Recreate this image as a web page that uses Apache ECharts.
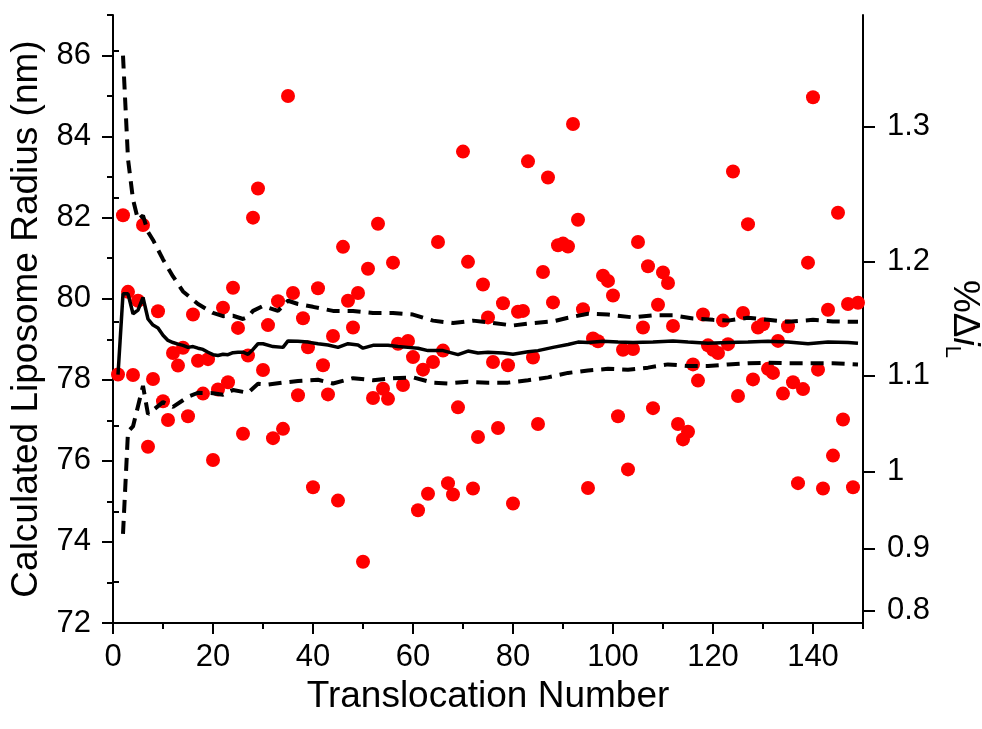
<!DOCTYPE html>
<html>
<head>
<meta charset="utf-8">
<script src="https://cdn.jsdelivr.net/npm/echarts@6/dist/echarts.min.js"></script>
<style>
html,body{margin:0;padding:0;background:#fff;}
#chart{width:982px;height:729px;}
</style>
</head>
<body>
<div id="chart"></div>
<script>
// ---------- data ----------
const translocation = [1,2,3,4,5,6,7,8,9,10,11,12,13,14,15,16,17,18,19,20,21,22,23,24,25,26,27,28,29,30,
31,32,33,34,35,36,37,38,39,40,41,42,43,44,45,46,47,48,49,50,51,52,53,54,55,56,57,58,59,60,
61,62,63,64,65,66,67,68,69,70,71,72,73,74,75,76,77,78,79,80,81,82,83,84,85,86,87,88,89,90,
91,92,93,94,95,96,97,98,99,100,101,102,103,104,105,106,107,108,109,110,111,112,113,114,115,116,117,118,119,120,
121,122,123,124,125,126,127,128,129,130,131,132,133,134,135,136,137,138,139,140,141,142,143,144,145,146,147,148,149];
const radius = [78.13,82.06,80.17,78.12,79.95,81.82,76.35,78.02,79.69,77.47,77.01,78.66,78.35,78.79,77.10,79.61,78.47,77.66,78.51,76.02,
77.76,79.78,77.94,80.27,79.28,76.67,78.60,82.00,82.72,78.24,79.35,76.56,79.94,76.79,85.00,80.14,77.62,79.52,78.80,75.35,
80.26,78.36,77.64,79.08,75.02,81.28,79.95,79.29,80.14,73.51,80.74,77.55,81.85,77.78,77.53,80.89,78.89,77.87,78.96,78.56,
74.78,78.25,75.19,78.44,81.40,78.72,75.45,75.17,77.32,83.63,80.91,75.32,76.59,80.35,79.54,78.44,76.81,79.89,78.36,74.95,
79.68,79.70,83.39,78.55,76.91,80.66,82.99,79.91,81.32,81.36,81.29,84.31,81.95,79.74,75.33,79.02,78.95,80.57,80.44,80.08,
77.10,78.74,75.79,78.76,81.40,79.29,80.80,77.30,79.85,80.65,80.39,79.33,76.91,76.53,76.72,78.38,77.98,79.61,78.85,78.74,
78.66,79.46,78.88,83.14,77.60,79.65,81.84,78.01,79.29,79.37,78.27,78.17,78.96,77.66,79.32,77.94,75.45,77.77,80.89,84.97,
78.25,75.32,79.73,76.13,82.12,77.02,79.87,75.35,79.90];

const meanN = [1,2,3,4,5,6,7,8,9,10,11,12,13,14,15,16,17,18,19,20,21,22,23,24,25,26,27,28,29,30,32,34,35,37,39,41,43,45,47,49,50,52,55,57,59,61,63,66,69,71,73,75,78,80,83,85,88,91,93,95,98,101,104,108,112,115,119,123,127,131,135,139,143,147,149];
const meanR = [78.13,80.12,80.12,79.63,79.72,80.03,79.50,79.35,79.28,79.10,78.97,78.92,78.88,78.85,78.80,78.82,78.78,78.75,78.68,78.62,78.60,78.63,78.62,78.67,78.68,78.68,78.63,78.75,78.89,78.89,78.82,78.80,78.96,78.95,78.93,78.89,78.86,78.80,78.89,78.86,78.78,78.85,78.85,78.82,78.80,78.78,78.72,78.72,78.62,78.71,78.66,78.68,78.66,78.63,78.69,78.72,78.80,78.87,78.93,78.92,78.95,78.93,78.92,78.93,78.96,78.93,78.90,78.92,78.93,78.95,78.93,78.89,78.93,78.92,78.90];

const upperN = [2,3,4,5,6,7,8,10,12,14,17,20,22,24,26,27,28,30,33,35,37,40,44,48,52,56,60,64,68,72,76,80,84,88,91,95,99,104,108,112,116,120,123,127,131,135,140,144,149];
const upperR = [86.00,83.45,82.45,81.95,82.05,81.65,81.45,80.97,80.55,80.18,79.87,79.65,79.57,79.58,79.50,79.55,79.70,79.82,79.70,79.95,79.87,79.80,79.70,79.70,79.65,79.65,79.61,79.46,79.40,79.46,79.40,79.34,79.40,79.44,79.53,79.63,79.61,79.54,79.59,79.59,79.51,79.48,79.46,79.53,79.48,79.43,79.48,79.44,79.43];

const lowerN = [2,3,4,5,6,7,8,10,12,15,17,20,22,24,27,29,31,34,37,41,44,48,52,56,60,64,67,71,75,79,83,87,91,95,99,103,107,111,115,119,123,127,131,135,140,144,149];
const lowerR = [74.20,76.72,76.85,77.35,77.85,77.15,77.25,77.45,77.33,77.58,77.68,77.67,77.63,77.75,77.68,77.90,77.88,77.93,77.97,78.00,77.91,78.04,77.99,78.04,78.06,77.93,77.91,77.95,77.93,77.93,77.99,78.06,78.17,78.23,78.27,78.25,78.30,78.38,78.34,78.34,78.38,78.41,78.42,78.41,78.41,78.41,78.38];

// axis ticks
const xTickValues = [0,20,40,60,80,100,120,140];
const xMinorValues = [10,30,50,70,90,110,130,150];
const yTickValues = [72,74,76,78,80,82,84,86];
const yMinorValues = [73,75,77,79,81,83,85,87];
// right axis (%ΔI_L): label and the radius value at which it sits
const rightTickLabels = ['0.8','0.9','1','1.1','1.2','1.3'];
const rightTickRadius = [72.30,73.84,75.73,78.10,80.91,84.24];
const rightMinorRadius = [73.01,74.75,76.87,79.43,82.50,86.11];

// ---------- chart ----------
const FONT = '"Liberation Sans", Arial, Helvetica, sans-serif';
const BLACK = '#000';
const chart = echarts.init(document.getElementById('chart'), null, {renderer:'canvas'});

const lineAx = {show:true, onZero:false, lineStyle:{color:BLACK, width:2}};
const tickStyle = {color:BLACK, width:2};
const RMIN = 72, RMAX = 87;

function minorY(pos, vals){
  return {type:'value', position:pos, min:RMIN, max:RMAX,
    axisLine:{show:false}, splitLine:{show:false},
    axisLabel:{show:false},
    axisTick:{show:true, inside:false, length:6, lineStyle:tickStyle, customValues:vals}};
}

const option = {
  animation:false,
  backgroundColor:'#ffffff',
  textStyle:{fontFamily:FONT},
  grid:{left:113, right:119, top:15, bottom:106, containLabel:false, outerBoundsMode:'none'},
  xAxis:[
    {type:'value', position:'bottom', min:0, max:150,
     name:'Translocation Number', nameLocation:'middle', nameGap:47,
     nameTextStyle:{fontSize:37, color:BLACK, fontFamily:FONT},
     axisLine:lineAx, splitLine:{show:false},
     axisTick:{show:true, inside:false, length:11, lineStyle:tickStyle, customValues:xTickValues},
     axisLabel:{customValues:xTickValues, fontSize:31, color:BLACK, margin:19, fontFamily:FONT}},
    {type:'value', position:'bottom', min:0, max:150,
     axisLine:{show:false}, splitLine:{show:false}, axisLabel:{show:false},
     axisTick:{show:true, inside:false, length:6, lineStyle:tickStyle, customValues:xMinorValues}}
  ],
  yAxis:[
    {type:'value', position:'left', min:RMIN, max:RMAX,
     name:'Calculated Liposome Radius (nm)', nameLocation:'middle', nameGap:65, nameRotate:90,
     nameTextStyle:{fontSize:37, color:BLACK, fontFamily:FONT},
     axisLine:lineAx, splitLine:{show:false},
     axisTick:{show:true, inside:false, length:11, lineStyle:tickStyle, customValues:yTickValues},
     axisLabel:{customValues:yTickValues, fontSize:31, color:BLACK, margin:22, fontFamily:FONT}},
    {type:'value', position:'right', min:RMIN, max:RMAX,
     name:'{b|%Δ}{i|i}{s|L}', nameLocation:'middle', nameGap:70, nameRotate:-90,
     nameTextStyle:{color:BLACK, fontFamily:FONT, rich:{
       b:{fontSize:37, color:BLACK, fontFamily:FONT, verticalAlign:'top', lineHeight:42},
       i:{fontSize:37, color:BLACK, fontFamily:FONT, fontStyle:'italic', verticalAlign:'top', lineHeight:42},
       s:{fontSize:22, color:BLACK, fontFamily:FONT, verticalAlign:'bottom', lineHeight:22}
     }},
     axisLine:lineAx, splitLine:{show:false},
     axisTick:{show:true, inside:false, length:12, lineStyle:tickStyle, customValues:rightTickRadius},
     axisLabel:{customValues:rightTickRadius, fontSize:31, color:BLACK, margin:24, fontFamily:FONT,
       formatter:function(v){
         for (let i=0;i<rightTickRadius.length;i++){ if (Math.abs(rightTickRadius[i]-v)<1e-6) return rightTickLabels[i]; }
         return '';
       }}},
    minorY('right', rightMinorRadius),
    minorY('left', yMinorValues)
  ],
  series:[
    {type:'scatter', xAxisIndex:0, yAxisIndex:0, symbol:'circle', symbolSize:14,
     itemStyle:{color:'#ff0000', opacity:1}, z:2,
     data: translocation.map((n,i)=>[n, radius[i]])},
    {type:'line', xAxisIndex:0, yAxisIndex:0, showSymbol:false, symbol:'none', z:5,
     lineStyle:{color:BLACK, width:4, type:[13,8]},
     data: upperN.map((n,i)=>[n, upperR[i]])},
    {type:'line', xAxisIndex:0, yAxisIndex:0, showSymbol:false, symbol:'none', z:5,
     lineStyle:{color:BLACK, width:4, type:[13,8]},
     data: lowerN.map((n,i)=>[n, lowerR[i]])},
    {type:'line', xAxisIndex:0, yAxisIndex:0, showSymbol:false, symbol:'none', z:6,
     lineStyle:{color:BLACK, width:3.5},
     data: meanN.map((n,i)=>[n, meanR[i]])}
  ]
};
chart.setOption(option);
</script>
</body>
</html>
